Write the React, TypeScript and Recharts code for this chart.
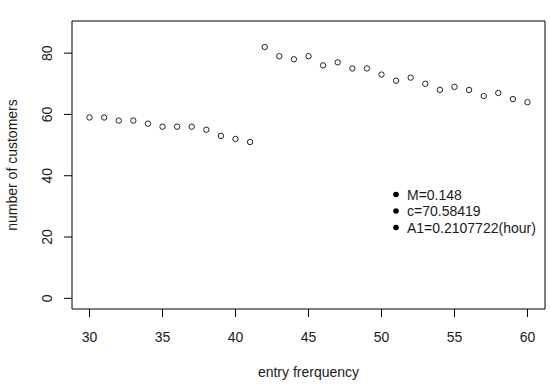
import React from 'react';
import { ScatterChart, Scatter, XAxis, YAxis, ReferenceArea, Legend } from 'recharts';

const entryFrequency = [30, 31, 32, 33, 34, 35, 36, 37, 38, 39, 40, 41, 42, 43, 44, 45, 46, 47, 48, 49, 50, 51, 52, 53, 54, 55, 56, 57, 58, 59, 60];
const customers = [59, 59, 58, 58, 57, 56, 56, 56, 55, 53, 52, 51, 82, 79, 78, 79, 76, 77, 75, 75, 73, 71, 72, 70, 68, 69, 68, 66, 67, 65, 64];
const xTicks = [30, 35, 40, 45, 50, 55, 60];
const yTicks = [0, 20, 40, 60, 80];
const legendLabels = ['M=0.148', 'c=70.58419', 'A1=0.2107722(hour)'];

const FONT = '"Liberation Sans", Arial, sans-serif';
const INK = '#1a1a1a';

const data = entryFrequency.map((x, i) => ({ x, y: customers[i] }));

const YTick = (props: any) => {
    const { x, y, payload } = props;
    const bx = x - 11.5;
    return (
        <text x={bx} y={y} transform={`rotate(-90, ${bx}, ${y})`} textAnchor="middle" fontSize={14} fontFamily={FONT} fill={INK}>
            {payload.value}
        </text>
    );
};

const OpenCircle = (props: any) => (
    <circle cx={props.cx} cy={props.cy} r={2.7} fill="none" stroke="#222" strokeWidth={1} />
);

const StatsBox = () => (
    <svg width={170} height={60} style={{ display: 'block' }}>
        {legendLabels.map((label, i) => (
            <g key={label}>
                <circle cx={16} cy={9.5 + i * 16.5} r={2.8} fill="#000" />
                <text x={27} y={14.5 + i * 16.5} fontSize={14} fontFamily={FONT} fill={INK}>{label}</text>
            </g>
        ))}
    </svg>
);

export default function App() {
    return (
        <div style={{ position: 'absolute', left: 0, top: 0, background: '#fff' }}>
            <ScatterChart width={550} height={386} margin={{ top: 21, right: 5, bottom: 0, left: 0 }}>
                <XAxis
                    type="number"
                    dataKey="x"
                    domain={[28.8, 61.2]}
                    ticks={xTicks}
                    allowDataOverflow
                    axisLine={false}
                    tickSize={8}
                    tickMargin={15}
                    tickLine={{ stroke: '#000' }}
                    tick={{ fontSize: 14, fontFamily: FONT, fill: INK }}
                    height={77}
                    label={{
                        content: () => (
                            <text x={308.5} y={377} textAnchor="middle" fontSize={14} fontFamily={FONT} fill={INK}>entry frerquency</text>
                        ),
                    }}
                />
                <YAxis
                    type="number"
                    dataKey="y"
                    domain={[-3.48, 90.48]}
                    ticks={yTicks}
                    allowDataOverflow
                    axisLine={false}
                    tickSize={8}
                    tickMargin={0}
                    tickLine={{ stroke: '#000' }}
                    tick={<YTick />}
                    width={72}
                    label={{
                        content: () => (
                            <text x={17} y={165} transform="rotate(-90, 17, 165)" textAnchor="middle" fontSize={14} fontFamily={FONT} fill={INK}>number of customers</text>
                        ),
                    }}
                />
                <ReferenceArea x1={28.8} x2={61.2} y1={-3.48} y2={90.48} fill="none" stroke="#000" strokeWidth={1} fillOpacity={0} ifOverflow="visible" />
                <Scatter data={data} shape={<OpenCircle />} isAnimationActive={false} />
                <Legend
                    layout="vertical"
                    align="center"
                    verticalAlign="middle"
                    content={() => <StatsBox />}
                    wrapperStyle={{ left: 380, top: 185, width: 170, height: 60 }}
                />
            </ScatterChart>
        </div>
    );
}
